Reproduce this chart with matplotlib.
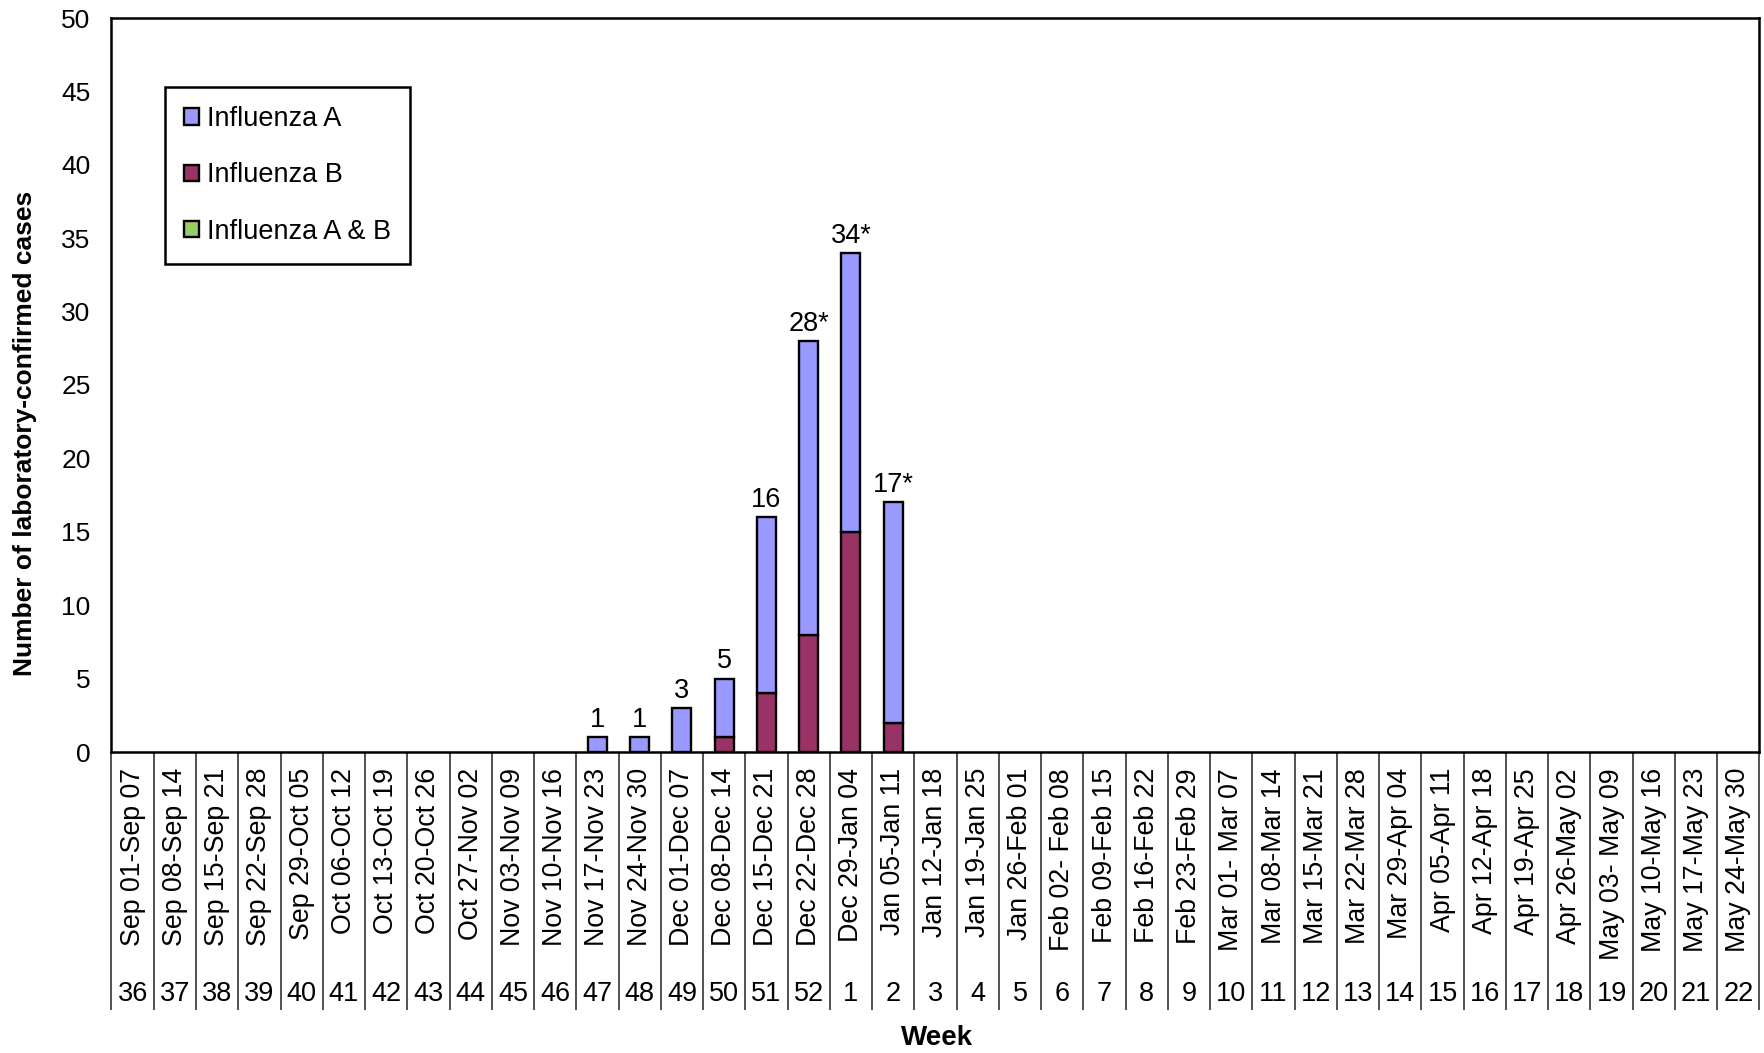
import matplotlib
matplotlib.use('Agg')
import matplotlib.pyplot as plt
import numpy as np

plt.rcParams['font.family'] = ['Liberation Sans', 'DejaVu Sans']

# 数据: 周次、日期区间、各型病例数
weeks = [36, 37, 38, 39, 40, 41, 42, 43, 44, 45, 46, 47, 48, 49, 50, 51, 52,
         1, 2, 3, 4, 5, 6, 7, 8, 9, 10, 11, 12, 13, 14, 15, 16, 17, 18, 19, 20, 21, 22]
dates = ['Sep 01-Sep 07', 'Sep 08-Sep 14', 'Sep 15-Sep 21', 'Sep 22-Sep 28',
         'Sep 29-Oct 05', 'Oct 06-Oct 12', 'Oct 13-Oct 19', 'Oct 20-Oct 26',
         'Oct 27-Nov 02', 'Nov 03-Nov 09', 'Nov 10-Nov 16', 'Nov 17-Nov 23',
         'Nov 24-Nov 30', 'Dec 01-Dec 07', 'Dec 08-Dec 14', 'Dec 15-Dec 21',
         'Dec 22-Dec 28', 'Dec 29-Jan 04', 'Jan 05-Jan 11', 'Jan 12-Jan 18',
         'Jan 19-Jan 25', 'Jan 26-Feb 01', 'Feb 02- Feb 08', 'Feb 09-Feb 15',
         'Feb 16-Feb 22', 'Feb 23-Feb 29', 'Mar 01- Mar 07', 'Mar 08-Mar 14',
         'Mar 15-Mar 21', 'Mar 22-Mar 28', 'Mar 29-Apr 04', 'Apr 05-Apr 11',
         'Apr 12-Apr 18', 'Apr 19-Apr 25', 'Apr 26-May 02', 'May 03- May 09',
         'May 10-May 16', 'May 17-May 23', 'May 24-May 30']
flu_b = [0]*14 + [1, 4, 8, 15, 2] + [0]*20
flu_a = [0]*11 + [1, 1, 3, 4, 12, 20, 19, 15] + [0]*20
flu_ab = [0]*39
top_labels = {11: '1', 12: '1', 13: '3', 14: '5', 15: '16',
              16: '28*', 17: '34*', 18: '17*'}

W, H = 1765, 1053
L, R, T, B = 111.5, 1759.5, 18, 752
fig = plt.figure(figsize=(W/100, H/100), dpi=100)
ax = fig.add_axes([L/W, 1-B/H, (R-L)/W, (B-T)/H])

x = np.arange(len(weeks))
bw = 0.45
kw = dict(width=bw, edgecolor='black', linewidth=1.7)
bb = ax.bar(x, flu_b, color='#993366', label='Influenza B', **kw)
ba = ax.bar(x, flu_a, bottom=flu_b, color='#9999FF', label='Influenza A', **kw)
bab = ax.bar(x, flu_ab, bottom=np.add(flu_a, flu_b), color='#99CC66',
             label='Influenza A & B', **kw)
# 零高度的柱不画, 否则边线会在基线上留短横
for cont in (bb, ba, bab):
    for p in cont.patches:
        if p.get_height() == 0:
            p.set_visible(False)

tot = np.add(flu_a, flu_b)
for i, s in top_labels.items():
    ax.annotate(s, (x[i], tot[i]), xytext=(0, 3), textcoords='offset points',
                ha='center', va='bottom', fontsize=19.5)

ax.set_xlim(-0.5, len(weeks)-0.5)
ax.set_ylim(0, 50)
ax.set_yticks(range(0, 51, 5))
ax.tick_params(axis='y', length=0, labelsize=19, pad=15)
ax.set_xticks([])
for sp in ax.spines.values():
    sp.set_linewidth(1.8)
    sp.set_color('black')
    sp.set_zorder(5)

# 底部表格: 竖线 + 日期 + 周次
ph = B - T
tr = ax.get_xaxis_transform()
edges = np.arange(len(weeks)+1) - 0.5
ax.vlines(edges, 0, -(1010-B)/ph, transform=tr, colors='#333333',
          linewidth=1.2, clip_on=False)
for i in x:
    ax.text(i, -(768-B)/ph, dates[i], transform=tr, rotation=90,
            ha='center', va='top', fontsize=19.3)
    ax.text(i, -(994-B)/ph, str(weeks[i]), transform=tr,
            ha='center', va='center', fontsize=19.5)

fig.text(937/W, 1-1038/H, 'Week', ha='center', va='center',
         fontsize=20, fontweight='bold')
fig.text(25/W, 1-433/H, 'Number of laboratory-confirmed cases', rotation=90,
         ha='center', va='center', fontsize=19, fontweight='bold')

leg = ax.legend(handles=[ba, bb, bab], loc='upper left',
                bbox_to_anchor=((165-L)/(R-L), 1-(87-T)/ph),
                borderaxespad=0, fontsize=19.5, fancybox=False, framealpha=1,
                edgecolor='black', handlelength=0.55, handleheight=0.55,
                handletextpad=0.3, labelspacing=1.12, borderpad=0.7)
leg.get_frame().set_linewidth(1.8)
for h in leg.legend_handles:
    h.set_visible(True)

fig.savefig('out.png', dpi=100)
